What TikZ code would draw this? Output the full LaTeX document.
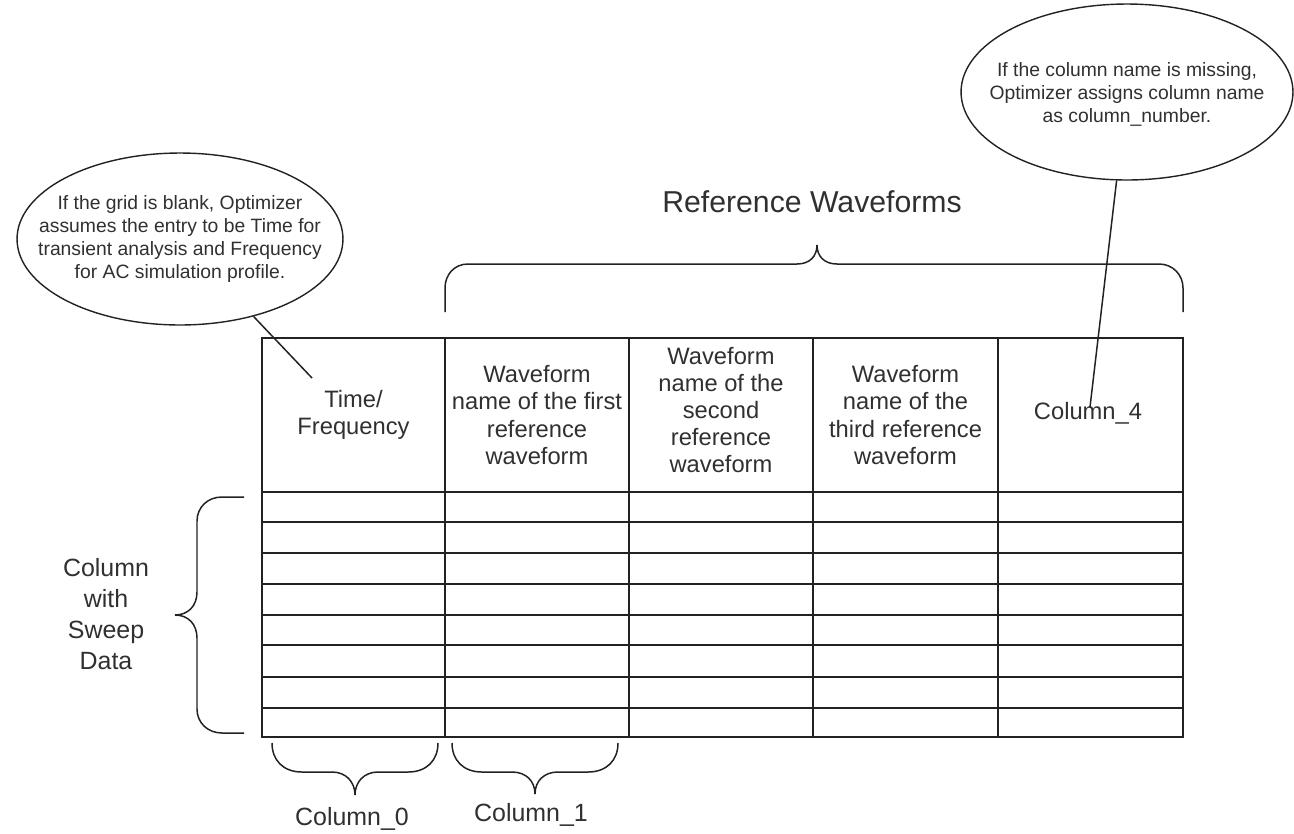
\documentclass[tikz,border=0pt]{standalone}
\usepackage{fontspec}
\setmainfont{Liberation Sans}
\usetikzlibrary{shapes.geometric}
\definecolor{inkline}{HTML}{222222}
\definecolor{inktext}{HTML}{303030}
\tikzset{
  gridline/.style={line width=1.1pt,draw=inkline},
  braceline/.style={line width=0.85pt,draw=inkline},
  callout/.style={draw=inkline,line width=0.8pt,ellipse,inner sep=0pt},
  callouttext/.style={align=center,text=inktext,inner sep=0pt,font=\fontsize{11}{13.1}\selectfont},
  headtext/.style={align=center,text=inktext,inner sep=0pt,font=\fontsize{13.5}{15.4}\selectfont},
  sidetext/.style={align=center,text=inktext,inner sep=0pt,font=\fontsize{14.2}{17.6}\selectfont}
}

\begin{document}
\begin{tikzpicture}[x=0.02cm,y=-0.02cm]
\useasboundingbox (0,0) rectangle (1294,833);

\draw[gridline] (262,338) rectangle (1183,737);
\draw[gridline] (445,338) -- (445,737);
\draw[gridline] (629,338) -- (629,737);
\draw[gridline] (813,338) -- (813,737);
\draw[gridline] (998,338) -- (998,737);
\draw[gridline] (262,492) -- (1183,492);
\draw[gridline] (262,522) -- (1183,522);
\draw[gridline] (262,553) -- (1183,553);
\draw[gridline] (262,584) -- (1183,584);
\draw[gridline] (262,615) -- (1183,615);
\draw[gridline] (262,645) -- (1183,645);
\draw[gridline] (262,677) -- (1183,677);
\draw[gridline] (262,708) -- (1183,708);

\node[headtext] (timehead) at (353.5,415) {Time/\\Frequency};
\node[headtext] (firsthead) at (537,415) {Waveform\\name of the first\\reference\\waveform};
\node[headtext] (secondhead) at (721,410) {Waveform\\name of the\\second\\reference\\waveform};
\node[headtext] (thirdhead) at (905.5,415) {Waveform\\name of the\\third reference\\waveform};
\node[headtext] (fourthhead) at (1088,413) {Column\_4};

\draw[braceline] (445,312) -- (445,288) .. controls (445,275) and (454,264) .. (468,264) -- (797,264) .. controls (810,264) and (817,256) .. (817,245) .. controls (817,256) and (824,264) .. (837,264) -- (1159,264) .. controls (1173,264) and (1183,275) .. (1183,288) -- (1183,312);
\node[sidetext,font=\fontsize{17.2}{20}\selectfont] (reftitle) at (812,202) {Reference Waveforms};

\draw[braceline] (244,497) -- (222,497) .. controls (208,497) and (197,507) .. (197,521) -- (197,592) .. controls (197,606) and (188,615) .. (175,615) .. controls (188,615) and (197,624) .. (197,638) -- (197,709) .. controls (197,723) and (208,733) .. (222,733) -- (244,733);
\node[sidetext] (sweeplabel) at (106,614) {Column\\with\\Sweep\\Data};

\draw[braceline] (272,743) .. controls (272,760) and (283,772) .. (302,772) -- (332,772) .. controls (346,772) and (355,782) .. (355,795) .. controls (355,782) and (364,772) .. (378,772) -- (408,772) .. controls (427,772) and (438,760) .. (438,743);
\node[sidetext] (col0label) at (352,819) {Column\_0};
\draw[braceline] (452,743) .. controls (452,760) and (463,772) .. (482,772) -- (512,772) .. controls (526,772) and (535,781) .. (535,794) .. controls (535,781) and (544,772) .. (558,772) -- (588,772) .. controls (607,772) and (618,760) .. (618,743);
\node[sidetext] (col1label) at (531,815) {Column\_1};

\node[callout,minimum width=6.52cm,minimum height=3.44cm] (blanknote) at (180,239) {};
\node[callouttext] (blanktext) at (blanknote.center) {If the grid is blank, Optimizer\\assumes the entry to be Time for\\transient analysis and Frequency\\for AC simulation profile.};
\coordinate (timeend) at (312,378);
\draw[braceline] (blanknote) -- (timeend);

\node[callout,minimum width=6.64cm,minimum height=3.52cm] (namenote) at (1127,92) {};
\node[callouttext] (nametext) at (1127,94) {If the column name is missing,\\Optimizer assigns column name\\as column\_number.};
\coordinate (nameend) at (1090,407);
\draw[braceline] (namenote) -- (nameend);
\end{tikzpicture}
\end{document}
